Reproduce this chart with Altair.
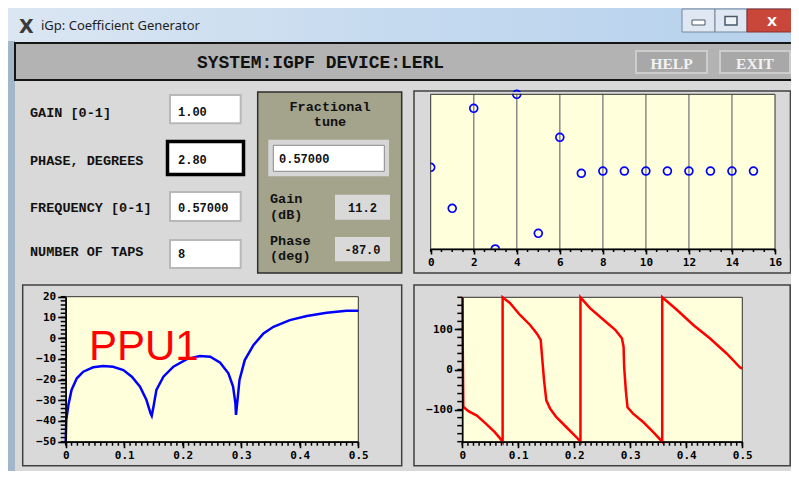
import altair as alt
import pandas as pd

W, H = 783, 463
OX, OY = 8, 8


def X(v):
    return v - OX


def Y(v):
    return v - OY


# ---------------- data ----------------
title_text = "iGp: Coefficient Generator"
header_text = "SYSTEM:IGPF DEVICE:LERL"
button_labels = ["HELP", "EXIT"]
form_labels = ["GAIN [0-1]", "PHASE, DEGREES", "FREQUENCY [0-1]", "NUMBER OF TAPS"]
form_values = ["1.00", "2.80", "0.57000", "8"]
tune_title = ["Fractional", "tune"]
tune_value = "0.57000"
readout_labels = [["Gain", "(dB)"], ["Phase", "(deg)"]]
readout_values = ["11.2", "-87.0"]
plot_label = "PPU1"

tap_index = list(range(16))
tap_coeff = [0.056, -0.474, 0.819, -1.0, 1.0, -0.797, 0.444, -0.021,
             0.008, 0.008, 0.008, 0.008, 0.008, 0.008, 0.008, 0.008]
tap_grid = [2, 4, 6, 8, 10, 12, 14]

freq_mag = [0, 0.001, 0.0046, 0.010, 0.019, 0.030, 0.047, 0.064, 0.081, 0.0985,
            0.113, 0.127, 0.138, 0.145, 0.147, 0.150, 0.155, 0.167, 0.184, 0.207,
            0.229, 0.247, 0.264, 0.278, 0.286, 0.290, 0.291, 0.293, 0.297, 0.306,
            0.321, 0.338, 0.355, 0.383, 0.412, 0.446, 0.480, 0.5]
mag_db = [-50, -39.5, -32.3, -25, -19.4, -16.2, -14.1, -13.5, -13.8, -15.4,
          -18.6, -23.4, -29.9, -36.3, -37.5, -33.1, -25, -18.6, -13.8, -10.1,
          -8.6, -9, -11.9, -17, -23.4, -31.5, -37.1, -31.5, -20.2, -10.6,
          -3.3, 2.3, 5.5, 8.7, 10.7, 12.3, 13.2, 13.2]

freq_phase = [0, 0.0018, 0.011, 0.026, 0.043, 0.058, 0.070, 0.072, 0.072, 0.085,
              0.103, 0.121, 0.133, 0.140, 0.143, 0.146, 0.150, 0.157, 0.168, 0.186,
              0.204, 0.211, 0.211, 0.228, 0.252, 0.273, 0.285, 0.288, 0.289, 0.292,
              0.295, 0.305, 0.323, 0.341, 0.357, 0.357, 0.383, 0.4125, 0.442, 0.472,
              0.496, 0.5]
phase_deg = [180, -93, -104, -115, -136, -156, -176, -180, 180, 166,
             136, 111, 90, 74, 23, -27, -77, -98, -119, -144,
             -169, -180, 180, 153, 124, 99, 78, 57, 7, -52,
             -94, -110, -131, -156, -180, 180, 149, 111, 78, 40,
             5, 2.5]

# tick positions (major labelled, minor unlabelled)
freq_major = [0, 0.1, 0.2, 0.3, 0.4, 0.5]
freq_minor = [i / 100 for i in range(51)]
mag_major = [-50, -40, -30, -20, -10, 0, 10, 20]
mag_minor = list(range(-50, 21, 2))
phase_major = [-100, 0, 100]
phase_minor = list(range(-180, 181, 20))
tap_major = [0, 2, 4, 6, 8, 10, 12, 14, 16]
tap_minor = [i / 2 for i in range(33)]

one = pd.DataFrame({"k": [0]})
layers = []

MONO = "Liberation Mono"
TICKFONT = "DejaVu Sans Mono"
PANEL = "#d9d9d9"
PLOTBG = "#ffffdc"


def rect(x1, y1, x2, y2, fill=None, stroke=None, sw=1.0):
    kw = {"fill": fill if fill is not None else "transparent"}
    if stroke is not None:
        kw["stroke"] = stroke
        kw["strokeWidth"] = sw
    layers.append(
        alt.Chart(one).mark_rect(**kw).encode(
            x=alt.value(X(x1)), x2=alt.value(X(x2)),
            y=alt.value(Y(y1)), y2=alt.value(Y(y2)))
    )


def text(s, x, y, size=13, font=MONO, weight="bold", color="#111111", align="left"):
    layers.append(
        alt.Chart(one).mark_text(
            align=align, baseline="alphabetic", font=font, fontSize=size,
            fontWeight=weight, color=color
        ).encode(x=alt.value(X(x)), y=alt.value(Y(y)), text=alt.value(s))
    )


def axis(orient, offset, values, label_expr, size=6):
    return alt.Axis(
        orient=orient, offset=offset, values=values, labelExpr=label_expr,
        tickSize=size, title=None, grid=False, labelFlush=False, labelOverlap=False,
        domainColor="#000000", domainWidth=1.5, tickColor="#000000", tickWidth=1.6,
        labelFont=TICKFONT, labelFontWeight="bold", labelFontSize=11,
        labelColor="#000000", labelPadding=2, zindex=1,
    )


def minor_x(vals, scale, y0, length=4):
    layers.append(
        alt.Chart(pd.DataFrame({"v": vals})).mark_rule(color="#000000", strokeWidth=1.5)
        .encode(x=alt.X("v:Q", scale=scale, axis=None),
                y=alt.value(Y(y0)), y2=alt.value(Y(y0 + length)))
    )


def minor_y(vals, scale, x0, length=5):
    layers.append(
        alt.Chart(pd.DataFrame({"v": vals})).mark_rule(color="#000000", strokeWidth=1.5)
        .encode(y=alt.Y("v:Q", scale=scale, axis=None),
                x=alt.value(X(x0 - length)), x2=alt.value(X(x0)))
    )


# ---------------- window chrome ----------------
rect(8, 8, 799, 479, fill=alt.Gradient(
    gradient="linear", x1=0, x2=1, y1=0, y2=0,
    stops=[alt.GradientStop(offset=0, color="#dbe6f2"),
           alt.GradientStop(offset=0.5, color="#c5daef"),
           alt.GradientStop(offset=1, color="#b6d1ec")]))
rect(8, 41, 15, 479, fill="#a3b7cb")
rect(15, 43, 801, 80, fill="#b3b3b3", stroke="#151515", sw=2)
rect(15, 81, 799, 479, fill=PANEL)

# title bar
text("X", 19, 33, size=19, font="DejaVu Sans", weight="bold", color="#3a3a3a")
text(title_text, 41, 30, size=13, font="Noto Sans", weight="normal", color="#1e1e1e")
rect(682, 9, 715, 32, fill="#dfe8f2", stroke="#72869c", sw=1)
rect(715, 9, 747, 32, fill="#dfe8f2", stroke="#72869c", sw=1)
rect(747, 9, 801, 32, fill="#c9473a", stroke="#8a3026", sw=1)
rect(692, 20, 705, 25, fill="#ffffff", stroke="#4a5868", sw=1)
rect(725, 16.5, 737, 25, fill="#eef3f8", stroke="#4a5868", sw=1.5)
text("X", 772, 26, size=13, font="DejaVu Sans", weight="bold", color="#ffffff", align="center")

# header
text(header_text, 197, 68, size=17.9)
for lab, (x1, x2) in zip(button_labels, [(636, 707), (720, 790)]):
    rect(x1, 51, x2, 73, fill="#a8a8a8", stroke="#cdcdcd", sw=2)
    text(lab, (x1 + x2) / 2, 68.5, size=15.5, font="Liberation Serif",
         color="#f2f2f2", align="center")

# ---------------- form ----------------
label_base = [116.7, 165, 212.3, 255.7]
box_rows = [(95, 123.3), (141.5, 174.5), (192, 221), (240, 268)]
value_base = [115.5, 164.3, 211.7, 258.3]
for i, lab in enumerate(form_labels):
    text(lab, 30, label_base[i], size=13.5)
    y1, y2 = box_rows[i]
    if i == 1:
        rect(167.5, y1, 243.5, y2, fill="#ffffff", stroke="#000000", sw=3.5)
    else:
        rect(170, y1, 240.7, y2, fill="#ffffff", stroke="#b8b8b8", sw=2)
    text(form_values[i], 178, value_base[i], size=12)

# fractional tune panel
rect(257.7, 92, 401.7, 273, fill="#a4a48c", stroke="#2e2e2e", sw=1.5)
text(tune_title[0], 330, 110.7, size=13.5, align="center")
text(tune_title[1], 330, 126, size=13.5, align="center")
rect(268.3, 139.7, 389, 176.3, fill="#d6d6d6")
rect(273.3, 145.3, 384.3, 171.3, fill="#ffffff", stroke="#8a8a8a", sw=1)
text(tune_value, 279, 163, size=12)
ro_base = [(203, 218.5), (244.7, 260)]
ro_box = [(194.7, 219.7), (237, 261.3)]
ro_val_base = [212, 253.7]
for i in range(2):
    text(readout_labels[i][0], 270, ro_base[i][0], size=13.5)
    text(readout_labels[i][1], 270, ro_base[i][1], size=13.5)
    rect(335, ro_box[i][0], 390, ro_box[i][1], fill=PANEL)
    text(readout_values[i], 362.5, ro_val_base[i], size=12, align="center")

# ---------------- taps scatter ----------------
tx = alt.Scale(domain=[0, 16], range=[X(430.7), X(775)], nice=False, zero=False)
ty = alt.Scale(domain=[-1, 1], range=[Y(249), Y(94.3)], nice=False, zero=False)
rect(414, 91, 790.2, 273, stroke="#404040", sw=1.5)
rect(430.7, 94.3, 775, 249, fill=PLOTBG)
layers.append(
    alt.Chart(pd.DataFrame({"g": tap_grid})).mark_rule(color="#8a8a8a", strokeWidth=1.5)
    .encode(x=alt.X("g:Q", scale=tx, axis=None),
            y=alt.value(Y(94.3)), y2=alt.value(Y(249)))
)
layers.append(
    alt.Chart(pd.DataFrame({"n": tap_index, "c": tap_coeff}))
    .mark_point(shape="circle", filled=False, color="#0000ff", strokeWidth=1.7,
                size=62, opacity=1)
    .encode(
        x=alt.X("n:Q", scale=tx,
                axis=axis("bottom", Y(249) - H, tap_major, "format(datum.value, 'd')", 5)),
        y=alt.Y("c:Q", scale=ty, axis=None),
    )
)
# masks (clip to plot area)
rect(415, 92, 430.2, 272, fill=PANEL)
rect(415, 92, 789.4, 93.8, fill=PANEL)
rect(415, 249.5, 789.4, 272, fill=PANEL)
rect(775.5, 92, 789.4, 272, fill=PANEL)
rect(430.7, 94.3, 775, 249, stroke="#303030", sw=1)
minor_x(tap_minor, tx, 249, 3)

# ---------------- magnitude plot ----------------
mx = alt.Scale(domain=[0, 0.5], range=[X(65.7), X(358.3)], nice=False, zero=False)
my = alt.Scale(domain=[-50, 20], range=[Y(441.7), Y(296.7)], nice=False, zero=False)
rect(22.7, 285, 401.7, 465.7, stroke="#404040", sw=1.5)
rect(65.7, 296.7, 358.3, 441.7, fill=PLOTBG, stroke="#303030", sw=1)
freq_label = "datum.value === 0 ? '0' : format(datum.value, '.1f')"
int_label = "format(datum.value, 'd')"
layers.append(
    alt.Chart(pd.DataFrame({"f": freq_mag, "m": mag_db}))
    .mark_line(color="#0000ff", strokeWidth=2.5)
    .encode(
        x=alt.X("f:Q", scale=mx, axis=axis("bottom", Y(441.7) - H, freq_major, freq_label, 6)),
        y=alt.Y("m:Q", scale=my, axis=axis("left", -X(65.7), mag_major, int_label, 8)),
    )
)
minor_x(freq_minor, mx, 441.7, 4)
minor_y(mag_minor, my, 65.7, 5)
text(plot_label, 89, 360, size=42, font="Liberation Sans", weight="normal",
     color="#ff0000")

# ---------------- phase plot ----------------
px = alt.Scale(domain=[0, 0.5], range=[X(462.3), X(742.3)], nice=False, zero=False)
py = alt.Scale(domain=[-180, 180], range=[Y(441.7), Y(297.3)], nice=False, zero=False)
rect(414, 285, 790.2, 465.7, stroke="#404040", sw=1.5)
rect(462.3, 297.3, 742.3, 441.7, fill=PLOTBG, stroke="#303030", sw=1)
layers.append(
    alt.Chart(pd.DataFrame({"f": freq_phase, "p": phase_deg,
                            "i": list(range(len(freq_phase)))}))
    .mark_line(color="#ff0000", strokeWidth=2.5)
    .encode(
        x=alt.X("f:Q", scale=px, axis=axis("bottom", Y(441.7) - H, freq_major, freq_label, 6)),
        y=alt.Y("p:Q", scale=py, axis=axis("left", -X(462.3), phase_major, int_label, 8)),
        order="i:Q",
    )
)
minor_x(freq_minor, px, 441.7, 4)
minor_y(phase_minor, py, 462.3, 5)

chart = (
    alt.layer(*layers)
    .resolve_scale(x="independent", y="independent")
    .resolve_axis(x="independent", y="independent")
    .properties(width=W, height=H, padding=0,
                autosize=alt.AutoSizeParams(type="none"))
    .configure_view(strokeWidth=0)
)

chart.save("out.html", embed_options={"renderer": "svg", "actions": False})
